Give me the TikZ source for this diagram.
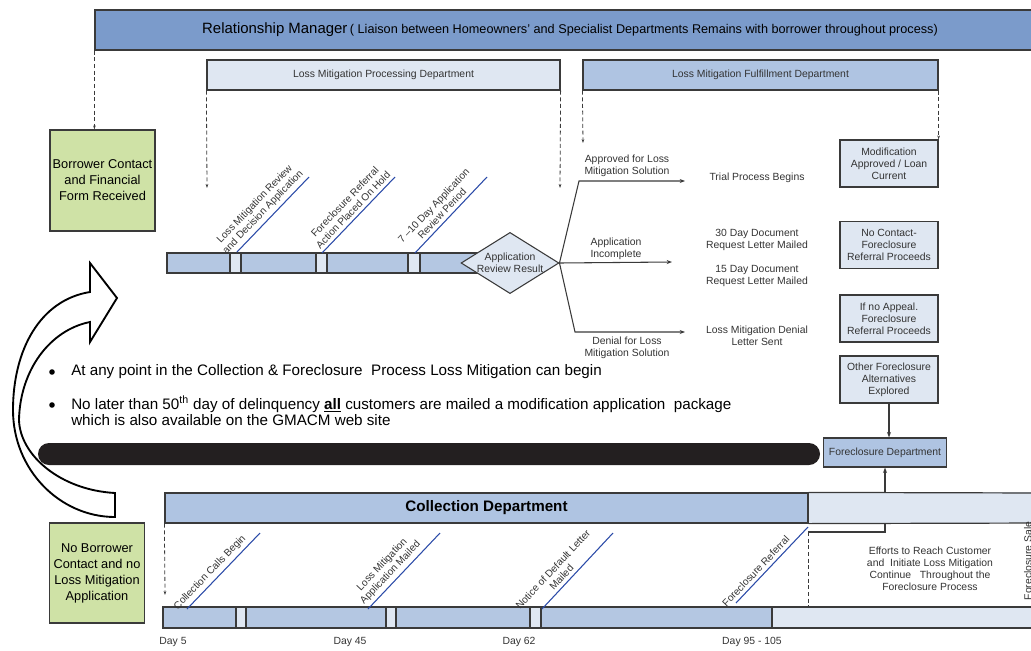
\documentclass[tikz,border=0pt]{standalone}
\usepackage{fontspec}
\setmainfont{Liberation Sans}
\usetikzlibrary{arrows.meta,shapes.geometric,calc}
\definecolor{rmblue}{HTML}{7B9BCB}
\definecolor{midblue}{HTML}{AFC4E2}
\definecolor{barblue}{HTML}{B4C7E2}
\definecolor{lightblue}{HTML}{DFE7F2}
\definecolor{boxgreen}{HTML}{CFE2A6}
\definecolor{txt}{HTML}{333333}
\definecolor{edge}{HTML}{3A3A3A}
\definecolor{diag}{HTML}{2B4BA8}
\definecolor{blackbar}{HTML}{231F20}
\begin{document}
\begin{tikzpicture}[x=0.75pt,y=-0.75pt,
  small/.style={font=\fontsize{7.8}{9}\selectfont, text=txt, align=center},
  rect/.style={draw=edge, line width=0.9pt, inner sep=1pt, align=center},
  dept/.style={rect, small},
  greenbox/.style={rect, fill=boxgreen, font=\fontsize{9.6}{12}\selectfont, text=black},
  infobox/.style={rect, small, fill=lightblue, minimum width=98*0.75pt, minimum height=47*0.75pt},
  arr/.style={-{Stealth[length=4pt,width=3pt]}, draw=edge, line width=0.8pt},
  dasharr/.style={dash pattern=on 3pt off 2pt, -{Stealth[length=3pt,width=2pt]}, draw=edge, line width=0.6pt},
  diagline/.style={draw=diag, line width=0.8pt},
  dlabel/.style={sloped, above, font=\fontsize{7.6}{8.6}\selectfont, text=txt, align=center, inner sep=2.5pt},
  tick/.style={draw=edge, line width=0.8pt, fill=lightblue},
  bigtext/.style={font=\fontsize{11.4}{12}\selectfont, text=black, align=left},
  bulletdot/.style={circle, fill=black, inner sep=0pt, minimum size=4.2pt}
]
\useasboundingbox (0,0) rectangle (1031,650);

% ---------- top banner ----------
\node[rect, fill=rmblue, minimum width=950*0.75pt, minimum height=40*0.75pt] (rm) at (570,30)
  {\fontsize{11.2}{12}\selectfont Relationship Manager\,\fontsize{9.5}{12}\selectfont( Liaison between Homeowners' and Specialist Departments Remains with borrower throughout process)};
\node[dept, fill=lightblue, minimum width=353*0.75pt, minimum height=30*0.75pt] (lmpd) at (383.5,75) {Loss Mitigation Processing Department};
\node[dept, fill=midblue, minimum width=355*0.75pt, minimum height=30*0.75pt] (lmfd) at (760.5,75) {Loss Mitigation Fulfillment Department};

% ---------- green boxes ----------
\node[greenbox, minimum width=105*0.75pt, minimum height=101*0.75pt] (bc) at (102.5,180.5) {Borrower Contact\\and Financial\\Form Received};
\node[greenbox, minimum width=95*0.75pt, minimum height=100*0.75pt] (nb) at (97,573) {No Borrower\\Contact and no\\Loss Mitigation\\Application};

% ---------- dashed arrows from departments ----------
\coordinate (p1) at (207,188);
\coordinate (p2) at (560,188);
\coordinate (f1) at (583,143);
\draw[dasharr] (rm.south west) -- (rm.south west |- bc.north);
\draw[dasharr] (lmpd.south west) -- (p1);
\draw[dasharr] (lmpd.south east) -- (p2);
\draw[dasharr] (lmfd.south west) -- (f1);

% ---------- upper timeline ----------
\fill[barblue] (167,253) rectangle (492,273);
\draw[edge, line width=0.8pt] (492,253) -- (167,253) -- (167,273) -- (492,273);
\draw[tick] (230,253) rectangle (241,273);
\draw[tick] (316,253) rectangle (327,273);
\draw[tick] (408,253) rectangle (420,273);
\node[draw=edge, line width=0.8pt, fill=lightblue, diamond, aspect=1.6, inner sep=0pt,
      minimum width=96*0.75pt, minimum height=60*0.75pt, small] (dia) at (510,263) {Application\\Review Result};

\draw[diagline] (237,252) -- node[dlabel, pos=0.45] {Loss Mitigation Review\\and Decision Application} (309,177);
\draw[diagline] (322,253) -- node[dlabel, pos=0.5] {Foreclosure Referral\\Action Placed On Hold} (395,177);
\draw[diagline] (415,253) -- node[dlabel, pos=0.45] {7 –10 Day Application\\Review Period} (487,177);

% ---------- branches ----------
\coordinate (b1) at (685,181);
\coordinate (b2) at (672,262);
\coordinate (b3) at (685,332);
\draw[arr] (dia.east) -- (579,181) -- (b1);
\draw[arr] (dia.east) -- (b2);
\draw[arr] (dia.east) -- (575,332) -- (b3);
\node[small] (l1) at (627,166) {Approved for Loss\\Mitigation Solution};
\node[small] (l2) at (616,249) {Application\\Incomplete};
\node[small] (l3) at (627,348) {Denial for Loss\\Mitigation Solution};
\node[small] (r1) at (757,178) {Trial Process Begins};
\node[small] (r2) at (757,240) {30 Day Document\\Request Letter Mailed};
\node[small] (r3) at (757,276) {15 Day Document\\Request Letter Mailed};
\node[small] (r4) at (757,336) {Loss Mitigation Denial\\Letter Sent};

% ---------- right boxes ----------
\node[infobox] (mod) at (889,163.5) {Modification\\Approved / Loan\\Current};
\node[infobox] (nc) at (889,245) {No Contact-\\Foreclosure\\Referral Proceeds};
\node[infobox] (ina) at (889,318.5) {If no Appeal.\\Foreclosure\\Referral Proceeds};
\node[infobox] (ofa) at (889,379.5) {Other Foreclosure\\Alternatives\\Explored};
\draw[dasharr] (lmfd.south east) -- (mod.north east);
\node[dept, fill=midblue, minimum width=123*0.75pt, minimum height=29*0.75pt] (fd) at (885,452.5) {Foreclosure Department};
\draw[arr] (ofa.south) -- (ofa.south |- fd.north);

% ---------- black bar ----------
\fill[blackbar, rounded corners=8.25pt] (38,443) rectangle (820,465);

% ---------- bullets ----------
\node[bulletdot] (bu1) at (52,372) {};
\node[bigtext, anchor=west, inner sep=0pt] (bt1) at (71,372) {At any point in the Collection \& Foreclosure\ \ Process Loss Mitigation can begin};
\node[bulletdot] (bu2) at (52,405) {};
\node[bigtext, anchor=north west, inner sep=0pt, font=\fontsize{11.4}{12.2}\selectfont] (bt2) at (71,396) {No later than 50\textsuperscript{th} day of delinquency \underline{\textbf{all}} customers are mailed a modification application\ \ package\\which is also available on the GMACM web site};

% ---------- curved hollow arrow ----------
\draw[black, line width=1.4pt, fill=white, line join=miter]
  (90,292) .. controls (40,300) and (13,350) .. (13,410)
  .. controls (13,470) and (60,517) .. (115,517)
  -- (115,493)
  .. controls (60,490) and (20,455) .. (19,420)
  .. controls (20,370) and (50,330) .. (90,322)
  -- (90,342) -- (117,298) -- (90,263) -- cycle;

% ---------- collection department ----------
\coordinate (fk) at (808,532);
\draw[arr] (fk) -| (fd.south);
\node[rect, fill=midblue, minimum width=643*0.75pt, minimum height=30*0.75pt,
      font=\fontsize{11.4}{12}\selectfont\bfseries] (cd) at (486.5,508) {Collection Department};
\fill[lightblue] (cd.north east) rectangle (1045,523);
\draw[edge, line width=0.9pt] (cd.north east) -- (1045,493);
\draw[edge, line width=0.9pt] (cd.south east) -- (1045,523);
\draw[edge, line width=0.9pt] (cd.north east) -- (cd.south east);

\coordinate (c1) at (165,595);
\coordinate (c2) at (808,612);
\draw[dasharr] (cd.south west) -- (c1);
\draw[dasharr] (fk) -- (c2);

% ---------- lower timeline ----------
\fill[barblue] (163,607) rectangle (772,628);
\fill[lightblue] (772,607) rectangle (1045,628);
\draw[edge, line width=0.8pt] (1045,607) -- (163,607) -- (163,628) -- (1045,628);
\draw[edge, line width=0.8pt] (772,607) -- (772,628);
\draw[tick] (236,607) rectangle (246,628);
\draw[tick] (386,607) rectangle (396,628);
\draw[tick] (530,607) rectangle (541,628);

\draw[diagline] (187,609) -- node[dlabel, pos=0.4] {Collection Calls Begin} (260,533);
\draw[diagline] (368,609) -- node[dlabel, pos=0.4] {Loss Mitigation\\Application Mailed} (440,533);
\draw[diagline] (542,609) -- node[dlabel, pos=0.35] {Notice of Default Letter\\Mailed} (613,533);
\draw[diagline] (736,603) -- node[dlabel, pos=0.35] {Foreclosure Referral} (808,527);

\node[small] (d1) at (173,642) {Day 5};
\node[small] (d2) at (350,642) {Day 45};
\node[small] (d3) at (519,642) {Day 62};
\node[small] (d4) at (752,642) {Day 95 - 105};

\node[small] (eff) at (930,569) {Efforts to Reach Customer\\and\ \ Initiate Loss Mitigation\\Continue\ \ \ Throughout the\\Foreclosure Process};
\node[small, rotate=90] (fs) at (1028,561) {Foreclosure Sale};
\end{tikzpicture}
\end{document}
